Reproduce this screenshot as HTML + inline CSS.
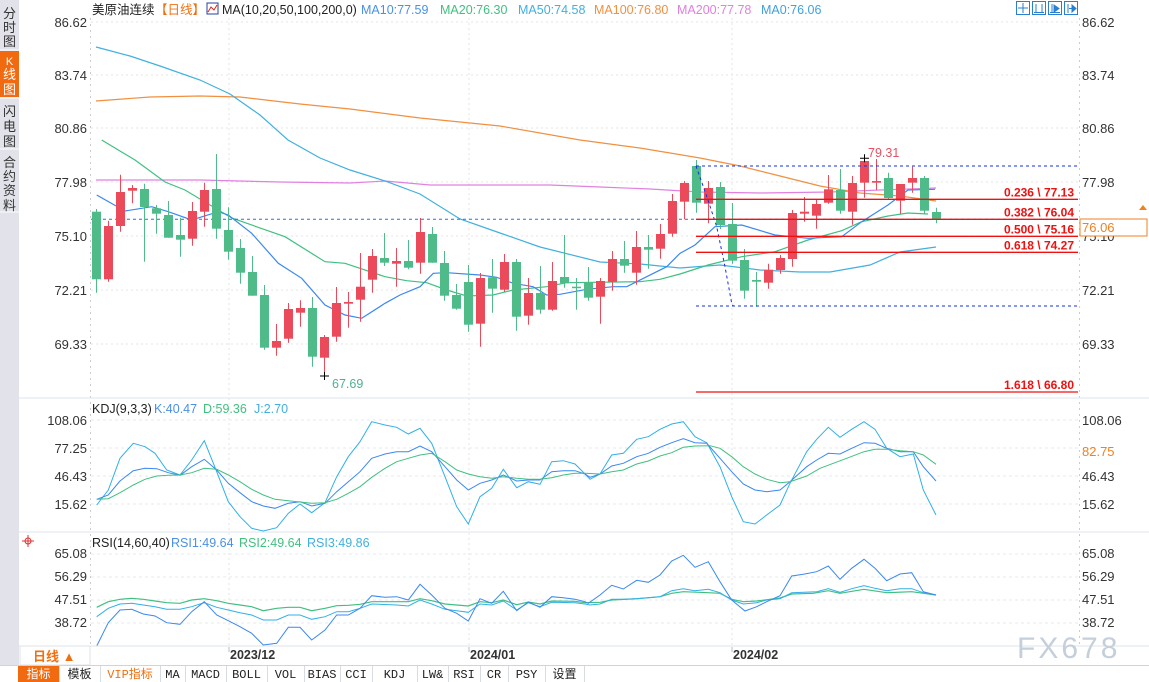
<!DOCTYPE html>
<html><head><meta charset="utf-8"><style>
html,body{margin:0;padding:0;background:#fff;width:1149px;height:682px;overflow:hidden}
svg{display:block;font-family:"Liberation Sans","Noto Sans CJK SC",sans-serif}
</style></head><body>
<svg id="s" width="1149" height="682" viewBox="0 0 1149 682" xmlns="http://www.w3.org/2000/svg">
<rect width="1149" height="682" fill="#fff"/>
<rect x="0" y="0" width="19" height="665" fill="#e2e2ea"/>
<rect x="0" y="51" width="19" height="46" fill="#f26a10"/>
<line x1="0" y1="50" x2="19" y2="50" stroke="#fff"/>
<line x1="0" y1="98" x2="19" y2="98" stroke="#fff"/>
<line x1="0" y1="149" x2="19" y2="149" stroke="#fff"/>
<line x1="0" y1="212" x2="19" y2="212" stroke="#fff"/>
<g font-size="13" fill="#333" text-anchor="middle">
<text x="9.5" y="18">分</text><text x="9.5" y="32">时</text><text x="9.5" y="46">图</text>
<text x="9.5" y="65" fill="#fff" font-size="11">K</text><text x="9.5" y="79" fill="#fff">线</text><text x="9.5" y="94" fill="#fff">图</text>
<text x="9.5" y="116">闪</text><text x="9.5" y="131">电</text><text x="9.5" y="146">图</text>
<text x="9.5" y="167">合</text><text x="9.5" y="181">约</text><text x="9.5" y="195">资</text><text x="9.5" y="210">料</text>
</g>
<g id="grid"></g>
<g id="lines"></g>
<g id="candles"></g>
<g id="fib"></g>
<g font-size="12.5">
<text x="92" y="14" fill="#222">美原油连续</text>
<text x="155" y="14" fill="#f07010">【日线】</text>
<rect x="207" y="3" width="11" height="11" fill="#fff" stroke="#2040a0"/>
<polyline points="208,12 211,7 214,10 217,5" fill="none" stroke="#e02020"/>
<text x="222" y="14" fill="#222">MA(10,20,50,100,200,0)</text>
<text x="361" y="14" fill="#4a90e8">MA10:77.59</text>
<text x="440" y="14" fill="#40c080">MA20:76.30</text>
<text x="518" y="14" fill="#40b0e0">MA50:74.58</text>
<text x="594" y="14" fill="#f09040">MA100:76.80</text>
<text x="677" y="14" fill="#e080e0">MA200:77.78</text>
<text x="761" y="14" fill="#40a0e0">MA0:76.06</text>
</g>
<g fill="#fff" stroke="#2a7fd0">
<rect x="1016.5" y="1.5" width="13" height="13"/><rect x="1032.5" y="1.5" width="13" height="13"/><rect x="1048.5" y="1.5" width="13" height="13"/><rect x="1064.5" y="1.5" width="13" height="13"/>
</g>
<g stroke="#2a7fd0" fill="none">
<line x1="1023" y1="3" x2="1023" y2="13"/><line x1="1018" y1="8" x2="1028" y2="8"/>
<line x1="1036" y1="4" x2="1036" y2="13"/><line x1="1042" y1="4" x2="1042" y2="13"/><line x1="1034" y1="12.5" x2="1044" y2="12.5"/>
<line x1="1052" y1="4" x2="1052" y2="13"/><polygon points="1054,5 1059,8.5 1054,12" fill="#2a7fd0"/><line x1="1050" y1="12.5" x2="1060" y2="12.5"/>
<line x1="1068" y1="4" x2="1068" y2="13"/><line x1="1069" y1="8.5" x2="1073" y2="8.5"/><polygon points="1072,5 1076,8.5 1072,12" fill="#2a7fd0"/>
</g>
<g font-size="13" fill="#333" text-anchor="end">
<text x="87" y="27">86.62</text><text x="87" y="80">83.74</text><text x="87" y="133">80.86</text>
<text x="87" y="187">77.98</text><text x="87" y="241">75.10</text><text x="87" y="295">72.21</text><text x="87" y="349">69.33</text>
<text x="87" y="425">108.06</text><text x="87" y="453">77.25</text><text x="87" y="481">46.43</text><text x="87" y="509">15.62</text>
<text x="87" y="558">65.08</text><text x="87" y="581">56.29</text><text x="87" y="604">47.51</text><text x="87" y="627">38.72</text>
</g>
<g font-size="13" fill="#333">
<text x="1082" y="27">86.62</text><text x="1082" y="80">83.74</text><text x="1082" y="133">80.86</text>
<text x="1082" y="187">77.98</text><text x="1082" y="241">75.10</text><text x="1082" y="295">72.21</text><text x="1082" y="349">69.33</text>
<text x="1082" y="425">108.06</text><text x="1082" y="456" fill="#f08020">82.75</text><text x="1082" y="481">46.43</text><text x="1082" y="509">15.62</text>
<text x="1082" y="558">65.08</text><text x="1082" y="581">56.29</text><text x="1082" y="604">47.51</text><text x="1082" y="627">38.72</text>
</g>
<rect x="1080" y="219" width="67" height="17" fill="#fff" stroke="#f08020"/>
<text x="1082" y="232" font-size="13" fill="#f08020">76.06</text>
<polygon points="1139,210 1143,205 1147,210" fill="#f08020"/>
<g font-size="12.5">
<text x="92" y="413" fill="#222">KDJ(9,3,3)</text>
<text x="154" y="413" fill="#4a90e8">K:40.47</text>
<text x="203" y="413" fill="#40c080">D:59.36</text>
<text x="254" y="413" fill="#40b0e0">J:2.70</text>
<text x="92" y="547" fill="#222">RSI(14,60,40)</text>
<text x="171" y="547" fill="#4a90e8">RSI1:49.64</text>
<text x="239" y="547" fill="#40c080">RSI2:49.64</text>
<text x="307" y="547" fill="#40b0e0">RSI3:49.86</text>
</g>
<g stroke="#e03030" fill="none"><circle cx="28" cy="541" r="3"/><line x1="22" y1="541" x2="34" y2="541"/><line x1="28" y1="535" x2="28" y2="547"/></g>
<line x1="19" y1="646" x2="1149" y2="646" stroke="#dde4ea"/>
<rect x="20" y="646" width="70" height="19" fill="#fff" stroke="#dde4ea"/>
<text x="33" y="661" font-size="13" font-weight="bold" fill="#f07010">日线 ▲</text>
<g font-size="12.5" font-weight="bold" fill="#333">
<text x="230" y="659">2023/12</text><text x="470" y="659">2024/01</text><text x="733" y="659">2024/02</text>
</g>
<g stroke="#bbb"><line x1="229" y1="647" x2="229" y2="652"/><line x1="469" y1="647" x2="469" y2="652"/><line x1="732" y1="647" x2="732" y2="652"/></g>
<text x="1017" y="658" font-size="30" fill="#c4cfdb" letter-spacing="3">FX678</text>
<rect x="0" y="665" width="1149" height="17" fill="#fff"/>
<line x1="0" y1="665.5" x2="1149" y2="665.5" stroke="#ccd4dc"/>
<rect x="18" y="666" width="41" height="16" fill="#f26a10"/>
<g id="tb" font-size="12" fill="#222" font-family="Liberation Mono,'Noto Sans CJK SC',monospace"></g>
</svg>
<script>
var NS="http://www.w3.org/2000/svg";
function el(p,t,a,txt){var e=document.createElementNS(NS,t);for(var k in a)e.setAttribute(k,a[k]);if(txt!=null)e.textContent=txt;document.getElementById(p).appendChild(e);return e;}
var hg=[22,75,128,182,236,290,344];
hg.forEach(function(y){el("grid","line",{x1:91,x2:1078,y1:y,y2:y,stroke:"#e4e4e4","stroke-dasharray":"2,3"});});
[420,448,476,504,554,577,600,623].forEach(function(y){el("grid","line",{x1:91,x2:1078,y1:y,y2:y,stroke:"#e6e9ee","stroke-dasharray":"3,3"});});
[229,469,732].forEach(function(x){el("grid","line",{x1:x,x2:x,y1:18,y2:646,stroke:"#e4e4e4","stroke-dasharray":"2,3"});});
el("grid","line",{x1:90.5,x2:90.5,y1:18,y2:646,stroke:"#ccc","stroke-dasharray":"2,4"});
el("grid","line",{x1:1079.5,x2:1079.5,y1:18,y2:646,stroke:"#ccc","stroke-dasharray":"2,4"});
el("grid","line",{x1:19,x2:1149,y1:398,y2:398,stroke:"#dde6ee"});
el("grid","line",{x1:19,x2:1149,y1:532,y2:532,stroke:"#dde6ee"});
function pl(pts,c,w,d){var a={points:pts.map(function(p){return p[0].toFixed(1)+","+p[1].toFixed(1)}).join(" "),fill:"none",stroke:c,"stroke-width":w||1};if(d)a["stroke-dasharray"]=d;el("lines","polyline",a);}
pl([[96,180],[200,180],[280,182],[350,183],[385,181],[430,185],[550,185],[600,187],[650,189],[700,192],[760,193],[830,192],[880,190],[936,188]],"#e080e0",1.2);
pl([[96,101],[150,97],[200,96],[240,97],[300,104],[350,109],[420,118],[500,126],[580,140],[640,148],[700,158],[740,166],[780,176],[820,186],[860,193],[900,196],[936,201]],"#f09040",1.2);
pl([[96,47],[130,56],[160,66],[200,80],[230,94],[260,115],[288,140],[320,158],[350,170],[385,181],[420,194],[460,219],[500,233],[540,247],[600,262],[640,264],[680,268],[720,265],[760,270],[800,272],[830,272],[870,265],[900,252],[936,247]],"#40b0e0",1.2);
pl([[101.7,140],[135,160],[165,182],[185,190],[231.7,218],[285,236.7],[325,261.7],[345,263.3],[385,276.7],[406.7,280.7],[426.7,282.7],[446.7,290],[466.7,296],[493,295],[513,290],[546.7,286.7],[566.7,282.7],[640,281.7],[660,279.3],[680,274],[708,265],[741.7,256.7],[775,251.7],[808,240],[841.7,230.7],[861.7,221.7],[888,216],[908,213],[928,214]],"#40c080",1.2);
pl([[96.7,195],[125,211],[151.7,206.7],[168.3,211.7],[191.7,220],[218.3,211.7],[228.3,215],[251.7,233.3],[278.3,263.3],[301.7,278.3],[325,305],[345,315],[361.7,318.3],[385,303.3],[400,295],[420,286.7],[433.3,273.3],[446.7,272.7],[480,275],[496.7,277.3],[513.3,283.3],[533,286.7],[546.7,295],[560,294.3],[586.7,289.3],[613.3,286.7],[626.7,286.7],[646.7,276.7],[666.7,266.7],[680,253.3],[695,245],[715,226.7],[741.7,225],[775,235],[808,238.3],[841.7,236.7],[861.7,221.7],[888,205],[908,190],[935,189.3]],"#3a88f0",1.2);
el("lines","line",{x1:91,x2:1078,y1:219.3,y2:219.3,stroke:"#2a6ee8","stroke-dasharray":"3,3"});
var C=[
["g",211.7,279.3,209,292.7],["r",226,279.3,220.7,281.7],["r",192,226,174.7,231.7],["r",188,190.7,185,203.3],["g",189,207,183.7,261.7],
["g",208.3,213.7,205,233.7],["g",215,237.7,201,237.7],["g",235,239.7,217.7,256.7],["r",211,238.7,202,245.7],["r",190,211.7,182.7,226.7],
["g",189,228.7,154,238.7],["g",230,251.7,207.3,259.7],["g",248,272.7,239,283.7],["g",272,295.7,256,295.7],["g",295,347.7,285,349.7],
["r",341,347.7,324,355.7],["r",309,338.7,303,342.7],["r",308,312.7,300.3,326.7],["g",308,356.7,297,366.7],["r",337,357.7,335,376],
["r",303,336.7,287,341.7],["r",302,303.7,292,327.7],["r",286.7,299.7,253,321.7],["r",256,279.7,249,292.7],["g",258,262.7,233,266],
["r",261,263.7,248,286.7],["g",261,267.7,240,269.3],["r",232,262.7,218,273.7],["g",234,262.7,227,262.7],["g",263,295.7,251,300.7],
["g",295,308.7,284,309.7],["g",282,324.7,265,331.7],["r",278,323.7,273,346.7],["g",277.3,288.7,259,312.7],["r",262,289.7,254,291.7],
["g",262,316.7,259,330.7],["r",293,315.7,278,324.7],["g",293,309.7,266,313.7],["r",281,309.7,262,310.7],["g",277,283.3,235,287.7],
["g",286.7,287.7,278,309.7],["g",282.7,297.7,267,300.7],["r",281,296.7,278,323.7],["r",259,281.7,251,290.7],["g",259,265.7,241,272.7],
["r",247,272.7,231,284.7],["g",247,249.7,235,268.7],["r",234,248.7,224,258.7],["r",201,233.7,194,236.7],["r",183,201.7,181,219.3],
["g",166,202.7,160,212.7],["r",188,203.7,181,223.3],["g",187,225,182,229],["g",224,260.7,203,263.7],["g",260,290.7,249,298.7],
["g",280,281.7,272,306.7],["r",269.7,282.7,263.7,288.7],["r",258,270,255,273.7],["r",213,259,210,266.7],["r",211.7,213.7,197,221.7],
["r",204,215.7,200,228.7],["r",189.3,202.7,175,203.7],["g",190,210.7,169,213.7],["r",183,211.7,176,224.7],["r",161,182.7,158.3,197.7],
["r",181,182.7,159,190],["g",178,198,172.7,200],["r",184,200.7,184,214],["r",178,182.7,166.7,192.7],["g",178,210.7,176,213.7],["g",212,219,207.7,223.3]];
C.forEach(function(c,i){var x=Math.round(96.3+12*i)+0.5;var col=c[0]=="r"?"#ea4a5a":"#4fbb88";
el("candles","line",{x1:x,x2:x,y1:c[3],y2:c[4],stroke:col});
el("candles","rect",{x:x-4.5,y:c[1],width:9,height:Math.max(1.5,c[2]-c[1]),fill:col});});
el("candles","path",{d:"M320,376 h9 M324.5,372 v8",stroke:"#000"});
el("candles","text",{x:332,y:388,"font-size":"12.5",fill:"#50b090"},"67.69");
el("candles","path",{d:"M860,158.3 h9 M864.5,154.3 v8",stroke:"#000"});
el("candles","text",{x:868,y:157,"font-size":"12.5",fill:"#e85060"},"79.31");
el("fib","line",{x1:696,x2:1078,y1:166,y2:166,stroke:"#1030e0","stroke-dasharray":"3,3"});
el("fib","line",{x1:696,x2:1078,y1:306,y2:306,stroke:"#1030e0","stroke-dasharray":"3,3"});
el("fib","polyline",{points:"696,166 708,200 716.7,226.7 725,266.7 731.7,303.3 733.3,306",fill:"none",stroke:"#1030e0","stroke-dasharray":"3,3"});
[[199.3,"0.236 \\ 77.13"],[219.3,"0.382 \\ 76.04"],[236.3,"0.500 \\ 75.16"],[252.3,"0.618 \\ 74.27"],[392,"1.618 \\ 66.80"]].forEach(function(f){
el("fib","line",{x1:696,x2:1078,y1:f[0],y2:f[0],stroke:"#f01010","stroke-width":1.3});
el("fib","text",{x:1074,y:f[0]-3,"font-size":"12","font-weight":"bold",fill:"#f01010","text-anchor":"end"},f[1]);});
function zc(a,b){var r=[];a.forEach(function(p){r.push([85+p[0]/3,400+p[1]/3]);});b.forEach(function(p){r.push([580+p[0]/3,400+p[1]/3]);});return r.filter(function(p,i,arr){return i==0||p[0]>arr[i-1][0]+0.5;});}
pl(zc([[35,315],[70,270],[105,175],[145,130],[180,140],[210,160],[245,210],[285,225],[320,180],[358,122],[395,215],[430,305],[465,350],[500,385],[535,393],[575,383],[610,340],[645,312],[680,338],[720,308],[755,230],[790,170],[825,125],[860,65],[900,75],[935,82],[970,102],[1005,85],[1040,130],[1080,230],[1115,320],[1150,372],[1185,290],[1220,265],[1255,208],[1295,263],[1330,245],[1365,253],[1400,185],[1435,182],[1470,192],[1500,222]],
[[30,238],[60,222],[95,165],[130,160],[170,118],[205,110],[240,88],[275,72],[310,65],[345,110],[380,128],[420,200],[455,290],[490,365],[525,372],[560,345],[600,315],[630,250],[680,155],[710,118],[745,82],[780,112],[815,88],[852,65],[885,88],[920,145],[960,170],[1000,162],[1030,270],[1068,345]]),"#30b0e8",1);
pl(zc([[35,298],[70,285],[105,243],[145,212],[180,205],[215,206],[250,218],[285,226],[320,200],[358,178],[395,210],[430,250],[465,278],[500,305],[535,318],[570,325],[610,310],[645,305],[680,318],[720,310],[755,275],[790,245],[825,215],[860,175],[900,162],[935,155],[970,155],[1005,138],[1040,155],[1080,200],[1115,240],[1150,270],[1185,250],[1220,240],[1255,225],[1295,243],[1330,240],[1365,240],[1400,215],[1435,212],[1470,212],[1500,222]],
[[30,232],[60,222],[95,198],[130,190],[170,170],[205,160],[240,142],[275,128],[310,116],[345,128],[380,130],[420,175],[455,215],[490,252],[525,270],[560,275],[600,270],[630,245],[680,200],[710,180],[745,160],[780,162],[815,145],[852,128],[885,130],[920,145],[960,155],[1000,155],[1030,200],[1068,243]]),"#3a88f0",1);
pl(zc([[35,298],[70,296],[105,278],[145,255],[180,238],[215,228],[250,226],[285,225],[320,218],[358,205],[395,208],[430,225],[465,245],[500,268],[535,285],[570,298],[610,302],[645,306],[680,310],[720,308],[755,298],[790,280],[825,260],[860,232],[900,205],[935,185],[970,175],[1005,165],[1040,160],[1080,185],[1115,210],[1150,222],[1185,230],[1220,235],[1255,230],[1295,235],[1330,238],[1365,238],[1400,233],[1435,225],[1470,220],[1500,220]],
[[60,222],[95,215],[130,210],[170,192],[205,183],[240,168],[275,158],[310,142],[345,138],[390,137],[420,145],[455,170],[490,200],[525,222],[560,238],[600,248],[630,245],[680,228],[720,205],[760,190],[800,175],[852,155],[885,148],[920,148],[960,152],[1000,155],[1030,165],[1068,193]]),"#40c080",1);
pl(zc([[35,622],[70,605],[105,598],[140,595],[175,598],[210,603],[245,608],[285,610],[320,600],[358,596],[395,602],[430,610],[465,615],[500,620],[535,632],[575,625],[610,622],[645,622],[680,632],[720,625],[755,617],[790,616],[825,613],[860,605],[970,605],[1005,596],[1040,602],[1080,612],[1115,615],[1150,618],[1185,605],[1220,608],[1255,600],[1295,614],[1330,606],[1365,612],[1400,603],[1470,604],[1500,608]],
[[60,607],[95,600],[170,596],[240,590],[275,580],[310,575],[385,578],[420,580],[455,598],[490,605],[530,603],[600,594],[635,582],[700,580],[745,572],[780,580],[852,568],[920,578],[995,575],[1068,585]]),"#40c080",1.2);
pl(zc([[35,650],[70,625],[105,612],[140,610],[175,615],[210,620],[245,628],[285,628],[320,620],[358,608],[395,622],[430,630],[465,638],[500,645],[535,660],[575,660],[610,645],[645,645],[680,658],[720,650],[755,635],[790,635],[825,625],[860,612],[935,615],[970,618],[1005,600],[1040,612],[1080,628],[1115,632],[1150,637],[1185,612],[1220,615],[1255,603],[1295,630],[1330,608],[1365,620],[1400,607],[1470,608],[1500,612]],
[[30,615],[60,612],[95,598],[130,598],[170,596],[240,590],[275,572],[310,566],[345,572],[385,568],[420,578],[455,600],[490,612],[530,608],[560,600],[600,596],[635,578],[710,575],[745,566],[780,577],[815,566],[852,557],[885,565],[920,572],[960,566],[995,566],[1030,578],[1068,585]]),"#30b0e8",1);
pl(zc([[35,738],[70,668],[105,630],[140,628],[175,642],[210,648],[245,668],[285,673],[320,635],[358,605],[395,645],[430,662],[465,680],[500,700],[535,735],[575,730],[610,682],[645,682],[680,720],[720,690],[755,645],[790,645],[825,625],[860,587],[900,592],[935,590],[970,600],[1005,553],[1040,585],[1080,625],[1115,640],[1150,663],[1185,596],[1220,610],[1255,574],[1295,632],[1330,606],[1365,622],[1400,590],[1435,593],[1470,598],[1500,605]],
[[25,610],[60,585],[95,556],[130,567],[170,541],[205,547],[240,525],[275,483],[310,466],[345,502],[385,485],[420,545],[455,600],[495,633],[530,620],[560,605],[600,587],[635,528],[670,523],[710,515],[745,498],[780,538],[815,505],[852,478],[885,505],[920,542],[960,522],[995,518],[1030,575],[1068,585]]),"#3a88f0",1);
var tb=[[18,59,"指标","#fff"],[59,100,"模板"],[100,160,"VIP指标","#f07010"],[160,185,"MA"],[185,226,"MACD"],[226,267,"BOLL"],[267,304,"VOL"],[304,340,"BIAS"],[340,372,"CCI"],[372,417,"KDJ"],[417,448,"LW&"],[448,480,"RSI"],[480,508,"CR"],[508,545,"PSY"],[545,584,"设置"]];
tb.forEach(function(t){el("tb","text",{x:(t[0]+t[1])/2,y:678,"text-anchor":"middle",fill:t[3]||"#222"},t[2]);el("tb","line",{x1:t[1]+.5,x2:t[1]+.5,y1:666,y2:682,stroke:"#d6dce2"});});
</script>
</body></html>
